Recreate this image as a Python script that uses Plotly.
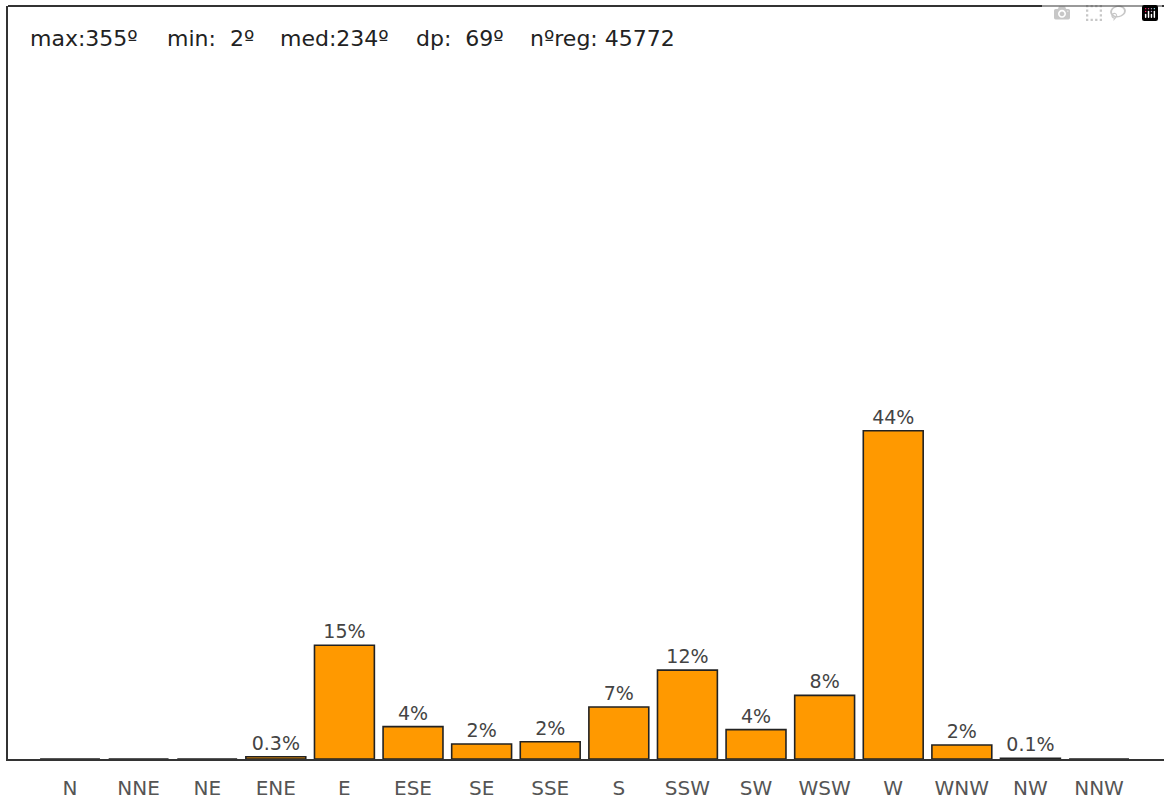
import plotly.graph_objects as go

# ---- data ----
directions = ["N", "NNE", "NE", "ENE", "E", "ESE", "SE", "SSE",
              "S", "SSW", "SW", "WSW", "W", "WNW", "NW", "NNW"]
percent = [0, 0, 0, 0.3, 15.1, 4.3, 2.0, 2.3,
           6.9, 11.8, 3.9, 8.45, 43.6, 1.85, 0.1, 0]
bar_labels = ["", "", "", "0.3%", "15%", "4%", "2%", "2%",
              "7%", "12%", "4%", "8%", "44%", "2%", "0.1%", ""]

max_dir = 355
min_dir = 2
mean_dir = 234
sd_dir = 69
n_reg = 45772

stats_text = [f"max:{max_dir}º", f"min:  {min_dir}º", f"med:{mean_dir}º",
              f"dp:  {sd_dir}º", f"nºreg: {n_reg}"]
stats_px = [28, 165, 278, 414, 528]

W, H = 1164, 800
ml, mr, mt, mb = 8, 0, 6, 38
plot_w = W - ml - mr
plot_h = H - mt - mb

fig = go.Figure()
fig.add_trace(go.Bar(
    x=list(range(len(directions))),
    y=percent,
    width=0.873,
    marker=dict(color="#FF9900", line=dict(color="#222222", width=1.6)),
    text=bar_labels,
    textposition="outside",
    textfont=dict(family="DejaVu Sans", size=19, color="#444444"),
    cliponaxis=False,
    hoverinfo="skip",
))

for t, px in zip(stats_text, stats_px):
    fig.add_annotation(
        text=t.replace(" ", "\u00a0"), xref="paper", yref="paper",
        x=(px - ml) / plot_w, y=(H - mb - 39) / plot_h,
        xanchor="left", yanchor="middle", showarrow=False,
        font=dict(family="DejaVu Sans", size=22, color="#222222"),
    )

# top frame line
fig.add_shape(type="line", xref="paper", yref="paper", x0=0, x1=1, y0=1, y1=1,
              line=dict(color="#333333", width=2))

fig.update_layout(
    width=W, height=H,
    margin=dict(l=ml, r=mr, t=mt, b=mb, pad=0),
    paper_bgcolor="white", plot_bgcolor="white",
    showlegend=False,
    xaxis=dict(
        range=[-0.904, 15.947],
        tickmode="array",
        tickvals=list(range(len(directions))),
        ticktext=directions,
        showgrid=False, zeroline=False,
        showline=True, linecolor="#333333", linewidth=2,
        ticks="", ticklabelstandoff=10,
        tickfont=dict(family="DejaVu Sans", size=20, color="#555555"),
        fixedrange=True,
    ),
    yaxis=dict(
        range=[0, 100],
        showgrid=False, zeroline=False, showticklabels=False,
        showline=True, linecolor="#333333", linewidth=2,
        ticks="", fixedrange=True,
    ),
)

fig.write_html(
    "out.html",
    post_script="document.body.style.margin='0';document.body.style.overflow='hidden';",
)
